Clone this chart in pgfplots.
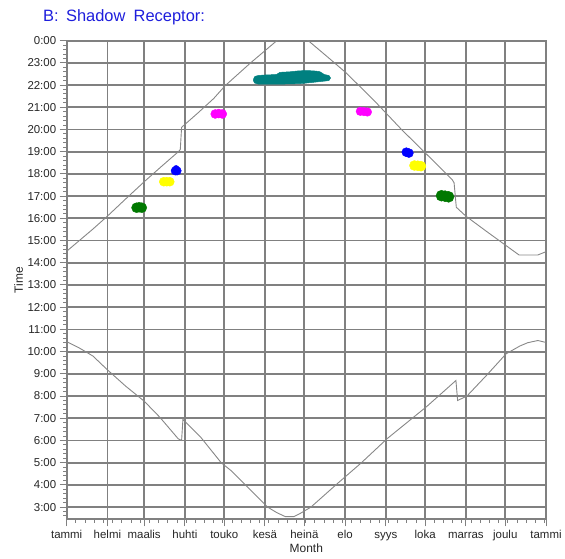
\documentclass[border=0pt]{standalone}
\usepackage{pgfplots}
\pgfplotsset{compat=1.18}
\usepackage{fontspec}
\setmainfont{Liberation Sans}
\definecolor{gridgray}{RGB}{128,128,128}
\definecolor{curvegray}{RGB}{135,135,135}
\definecolor{dkgreen}{RGB}{0,120,0}
\definecolor{tealc}{RGB}{0,128,128}
\definecolor{magc}{RGB}{255,0,255}
\definecolor{yelc}{RGB}{255,255,0}
\definecolor{bluec}{RGB}{0,0,255}
\definecolor{titleblue}{RGB}{30,30,220}
\begin{document}
\begin{tikzpicture}
\useasboundingbox (0,0) rectangle (565bp,559bp);
\begin{axis}[
  at={(66.7bp,39.7bp)}, anchor=south west,
  scale only axis, width=479.3bp, height=478.6bp,
  xmin=0, xmax=365, ymin=2.45, ymax=24,
  xtick={0,31,59,90,120,151,181,212,243,273,304,334,365},
  xticklabels={tammi,helmi,maalis,huhti,touko,kesä,heinä,elo,syys,loka,marras,joulu,tammi},
  ytick={3,4,5,6,7,8,9,10,11,12,13,14,15,16,17,18,19,20,21,22,23,24},
  yticklabels={3:00,4:00,5:00,6:00,7:00,8:00,9:00,10:00,11:00,12:00,13:00,14:00,15:00,16:00,17:00,18:00,19:00,20:00,21:00,22:00,23:00,0:00},
  minor xtick={7,14,...,364},
  minor ytick={2.6,2.8,...,23.9},
  grid=major,
  major grid style={gridgray, line width=1.8bp},
  axis line style={gridgray, line width=1.8bp},
  tick style={gridgray, line width=1bp},
  major tick length=7bp, minor tick length=3.5bp,
  tick align=outside, tick pos=left,
  ticklabel style={font=\fontsize{11.5}{13}\selectfont, text=black!85},
  xticklabel style={text height=8.5bp, text depth=2.5bp},
  xlabel={Month}, ylabel={Time},
  label style={font=\fontsize{12}{14}\selectfont, text=black!85},
  xlabel style={at={(axis description cs:0.5,0)}, anchor=center, yshift=-28.7bp},
  ylabel style={at={(axis description cs:0,0.5)}, anchor=center, yshift=48bp},
  clip=true,
]
% upper curve
\addplot[curvegray, line width=0.9bp] coordinates {
(0,14.52)(10,15.02)(20,15.52)(31,16.1)(45,16.88)(59.6,17.68)(72,18.33)(85,19.0)(86.5,19.1)(87.5,20.1)
(100,20.75)(112,21.4)(120.6,21.97)(140,23.0)(160,24.0)(172,24.6)(184,24.0)(200,23.2)(213,22.54)
(235,21.25)(255,20.0)(273,18.95)(285,18.25)(293.5,17.75)(295,17.6)(296.7,16.5)(304,16.1)(320,15.4)
(334,14.8)(344.5,14.35)(358.7,14.35)(363.8,14.47)(365,14.5)};
% lower curve
\addplot[curvegray, line width=0.9bp] coordinates {
(0,10.45)(10,10.15)(20,9.8)(31,9.18)(45,8.44)(59,7.77)(71,7.04)(85,6.07)(87.5,6.0)(88.5,6.95)
(102,6.15)(117.6,5.0)(125,4.65)(136,4.0)(153,3.0)(160,2.75)(166.5,2.57)(173,2.57)(178,2.72)
(186,3.0)(205,4.0)(224.5,5.0)(244,6.08)(259,6.8)(274,7.52)(286,8.15)(296.4,8.7)(297.7,7.8)
(304.8,8.0)(320,8.95)(334.6,9.9)(345,10.25)(351,10.4)(358.8,10.5)(363.8,10.43)(365,10.42)};
% receptor blobs
\addplot[only marks, mark=*, mark size=5bp, color=dkgreen] coordinates {(53.2,16.48)(55.2,16.5)(57.2,16.48)};
\addplot[only marks, mark=*, mark size=4.5bp, color=yelc] coordinates {(73.9,17.65)(76.2,17.65)(78.5,17.65)};
\addplot[only marks, mark=*, mark size=4.3bp, color=bluec] coordinates {(82.7,18.14)(84.0,18.14)};
\addplot[only marks, mark=*, mark size=3bp, color=bluec] coordinates {(83.3,18.25)};
\addplot[only marks, mark=*, mark size=4.5bp, color=magc] coordinates {(113.1,20.70)(115.8,20.72)(118.5,20.70)};
\addplot[fill=tealc, draw=tealc, line width=0.5bp, smooth, tension=0.4] coordinates {
(142.1,22.21)(143.0,22.37)(145.7,22.43)(152.3,22.46)(159.8,22.48)(162.2,22.57)(170.1,22.60)(177.7,22.645)
(186.8,22.645)(192.9,22.60)(196.0,22.48)(199.8,22.43)(200.9,22.32)(199.8,22.21)(192.9,22.16)(186.8,22.12)
(177.7,22.07)(166.3,22.05)(153.3,22.05)(145.7,22.05)(143.0,22.10)} -- cycle;
\addplot[only marks, mark=*, mark size=4.3bp, color=magc] coordinates {(223.6,20.82)(226.3,20.81)(229.0,20.79)};
\addplot[only marks, mark=*, mark size=4.5bp, color=bluec] coordinates {(258.6,18.98)(260.6,18.94)};
\addplot[only marks, mark=*, mark size=5bp, color=yelc] coordinates {(264.8,18.38)(267.3,18.37)(269.8,18.35)};
\addplot[only marks, mark=*, mark size=5.5bp, color=dkgreen] coordinates {(285.4,17.02)(288.1,17.0)(290.8,16.97)};
\end{axis}
\node[anchor=west, text=titleblue, font=\fontsize{16.5}{19}\selectfont, inner sep=0pt] at (43bp,542bp) {B:\hspace{0.45em}Shadow\hspace{0.5em}Receptor:};
\end{tikzpicture}
\end{document}
